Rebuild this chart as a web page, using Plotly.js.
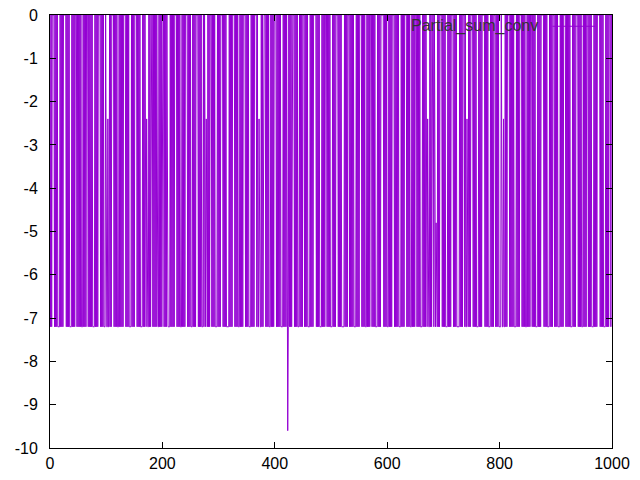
<!DOCTYPE html>
<html>
<head>
<meta charset="utf-8">
<script src="https://cdn.plot.ly/plotly-3.0.1.min.js"></script>
<style>html,body{margin:0;padding:0;background:#fff;}#chart{width:640px;height:480px;}</style>
</head>
<body>
<div id="chart"></div>
<script>
// Series label (legend)
const seriesName = "Partial_sum_conv";
// Value levels seen in the picture
const yLevels = [0, -2.4, -4.8, -7.2, -9.6];
// Level index for each sample x = 0..999 (50 per row)
const levelCodes = [
  "03030 00030 30303 33303 03030 00003 03030 33330 30303 00030",
  "30303 03330 30303 00030 30303 03333 03030 30000 30303 03330",
  "33313 30303 00003 03030 33303 03030 30000 30303 03333 03030",
  "30000 30303 03333 03030 33133 30303 00030 30303 03330 30303",
  "00030 30303 33330 30303 03000 03030 30333 03030 30000 30303",
  "03330 30303 00003 03030 33303 03313 30303 00030 30303 33303",
  "03030 00030 30303 33330 30303 00003 03030 33303 03030 00030",
  "30303 33303 03030 00030 33133 30303 00003 03030 33303 03030",
  "00030 30303 03333 03030 30343 03030 30000 30303 03330 30303",
  "00030 30303 33303 03030 00003 03030 33330 30303 00030 30303",
  "33303 03030 00030 30303 33330 30303 00030 30303 03333 03030",
  "30000 30303 03330 30303 00030 30303 33303 03030 00003 03030",
  "33303 03030 00030 30303 03333 03030 30000 30303 03330 30303",
  "00030 30303 33303 03030 33133 30303 00030 33233 03030 00030",
  "30303 33303 03030 00030 30303 33330 30303 00030 33133 03030",
  "00030 30303 33303 03030 00003 03030 33330 30303 00030 30303",
  "33303 33133 03030 00030 30303 03333 03030 30000 30303 03330",
  "30303 00030 30303 33303 03030 00003 03030 33330 30303 00030",
  "30303 33303 03030 00030 30303 03333 03030 30000 30303 03330",
  "30303 00030 30303 33303 03030 00003 03030 33330 30303 00030"
];
const xTicks = [0, 200, 400, 600, 800, 1000];
const yTicks = [0, -1, -2, -3, -4, -5, -6, -7, -8, -9, -10];

const codes = levelCodes.join("").replace(/\s+/g, "");
const yVals = [];
const xVals = [];
for (let i = 0; i < codes.length; i++) {
  xVals.push(i);
  yVals.push(yLevels[Number(codes[i])]);
}

const lineColor = "#9400D3";
const font = {family: "Liberation Sans, Arial, sans-serif", size: 16, color: "#000"};

const trace = {
  x: xVals, y: yVals, type: "scatter", mode: "lines",
  line: {color: lineColor, width: 1},
  name: seriesName, showlegend: false
};

const axisCommon = {
  showgrid: false, zeroline: false, showline: true, linecolor: "#000", linewidth: 1,
  mirror: "ticks", ticks: "inside", ticklen: 6, tickwidth: 1, tickcolor: "#000",
  tickfont: font
};

const layout = {
  width: 640, height: 480,
  margin: {l: 50, r: 28, t: 15, b: 32, pad: 0},
  paper_bgcolor: "#fff", plot_bgcolor: "#fff",
  font: font,
  xaxis: Object.assign({}, axisCommon, {range: [0, 1000], tickvals: xTicks, ticktext: xTicks.map(String), ticklabelstandoff: 1}),
  yaxis: Object.assign({}, axisCommon, {range: [-10, 0], tickvals: yTicks, ticktext: yTicks.map(String), ticklabelstandoff: 8}),
  annotations: [{
    xref: "paper", yref: "paper", x: 0.872, y: 0.974, xanchor: "right", yanchor: "middle",
    text: seriesName, showarrow: false, font: {family: font.family, size: 16, color: "#333"}
  }],
  shapes: [{
    type: "line", xref: "paper", yref: "paper", x0: 0.894, x1: 0.97, y0: 0.974, y1: 0.974,
    line: {color: lineColor, width: 1}
  }]
};

Plotly.newPlot("chart", [trace], layout, {staticPlot: true, displayModeBar: false});
</script>
</body>
</html>
